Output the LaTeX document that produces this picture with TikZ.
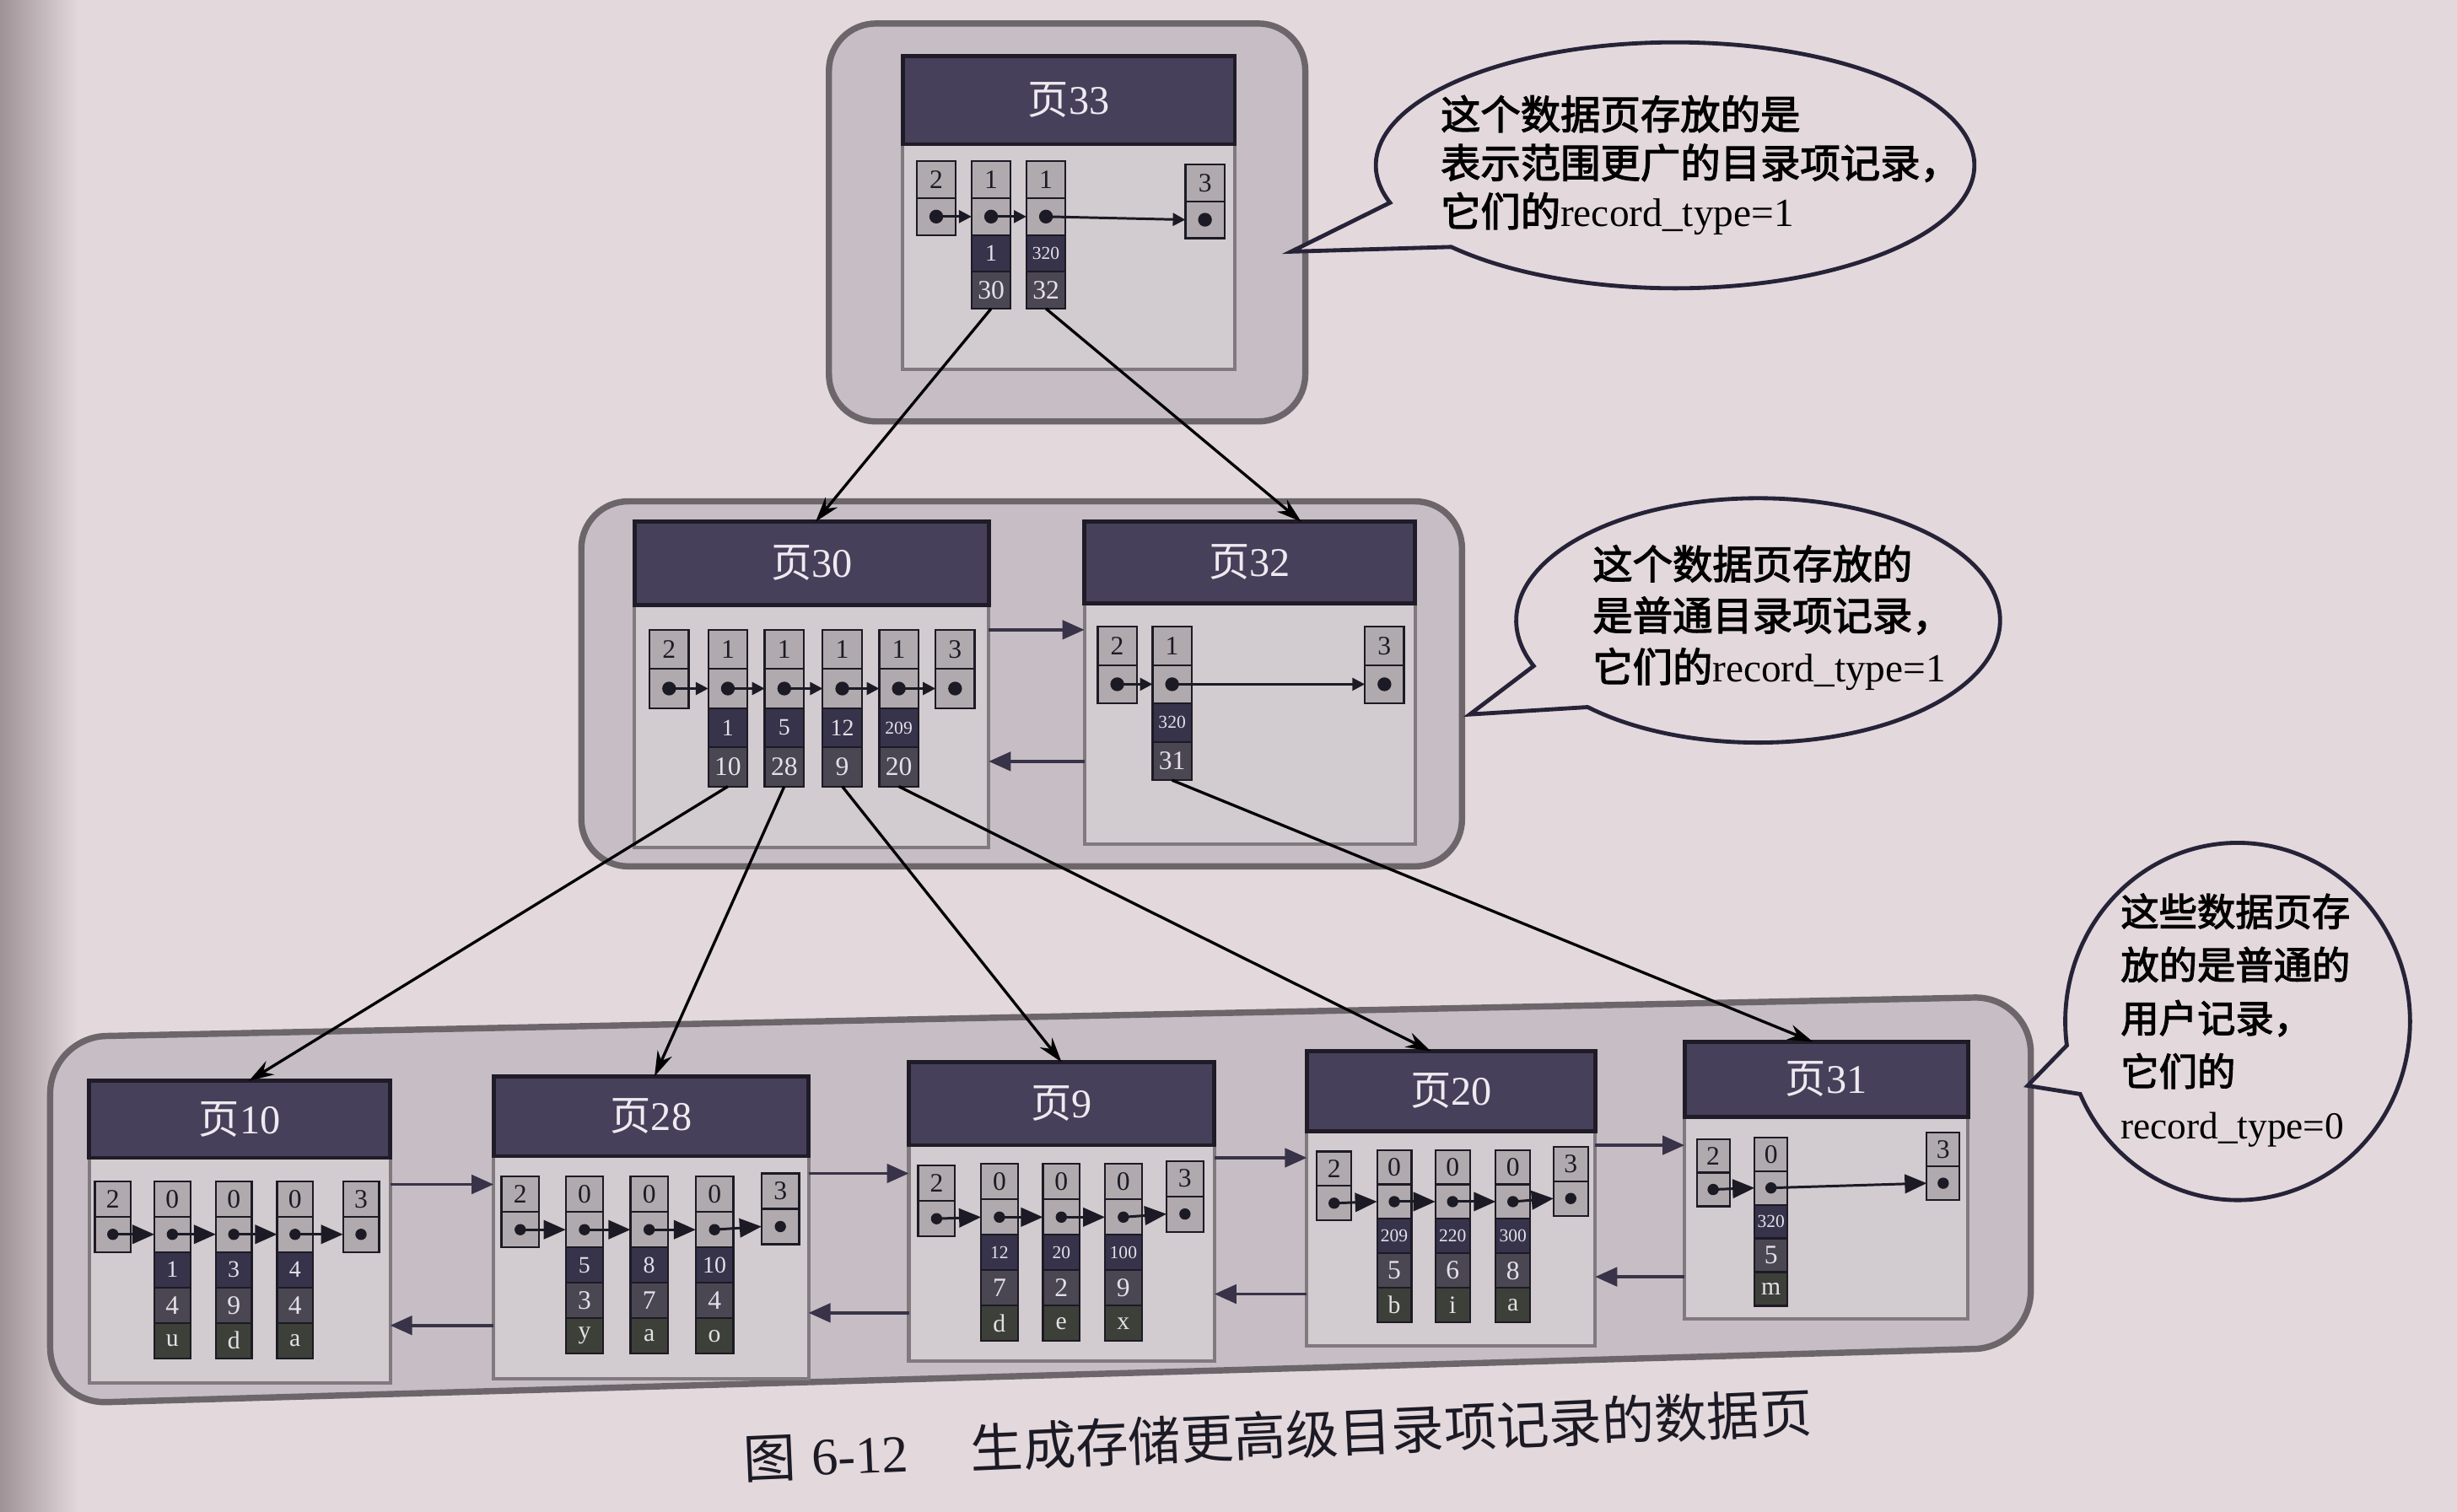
\documentclass[tikz,border=0pt]{standalone}
\usepackage{fontspec}
\setmainfont{Liberation Serif}
\newfontfamily\cjk{Noto Sans CJK SC}
\newfontfamily\cjkb{Noto Sans CJK SC}[FakeBold=2.5]
\usetikzlibrary{arrows.meta,calc}

\definecolor{paper}{HTML}{E3D8DC}
\definecolor{paperedge}{HTML}{9E9296}
\definecolor{groupfill}{HTML}{C6BEC4}
\definecolor{groupline}{HTML}{6C666B}
\definecolor{bodyfill}{HTML}{D2CBCF}
\definecolor{bodyline}{HTML}{807A7E}
\definecolor{headfill}{HTML}{46405A}
\definecolor{headline}{HTML}{1F1C27}
\definecolor{headtext}{HTML}{EEEAF0}
\definecolor{lightfill}{HTML}{B0A9AE}
\definecolor{keyfill}{HTML}{37334B}
\definecolor{valfill}{HTML}{4A4652}
\definecolor{charfill}{HTML}{3D4039}
\definecolor{celltext}{HTML}{E4E0E6}
\definecolor{ink}{HTML}{1C1A24}
\definecolor{bubbleline}{HTML}{262338}

% cell geometry (in picture units), reset per page
\def\cellw{25}
\def\cellh{24}
\def\dotr{2.2pt}

\newcommand\pagelabel[1]{{\cjk 页}#1}
\newcommand\smallnum[1]{{\fontsize{5.8}{6}\selectfont #1}}

% one data page: id, left, right, header top, header bottom / body top, body bottom
\newcommand\datapage[6]{%
  \node[pagebody, minimum width={(#3-#2)*0.5pt}, minimum height={(#6-#5)*0.5pt}]
    (b#1) at ({(#2+#3)/2},{(#5+#6)/2}) {};
  \node[header, minimum width={(#3-#2)*0.5pt}, minimum height={(#5-#4)*0.5pt}]
    (h#1) at ({(#2+#3)/2},{(#4+#5)/2}) {\pagelabel{#1}};}

% type cell + next-record pointer cell
\newcommand\typecells[4]{%
  \node[lcell] (#1-n) at (#2,{#3+0.5*\cellh}) {#4};
  \node[lcell] (#1-p) at (#2,{#3+1.5*\cellh}) {};
  \fill[ink] (#1-p.center) circle[radius=\dotr];}

% directory record: name, x, top, min key, child page
\newcommand\dirrec[5]{%
  \typecells{#1}{#2}{#3}{1}
  \node[kcell] (#1-k) at (#2,{#3+2.5*\cellh}) {#4};
  \node[vcell] (#1-v) at (#2,{#3+3.5*\cellh}) {#5};}

% user record: name, x, top, c1, c2, c3
\newcommand\userrec[6]{%
  \typecells{#1}{#2}{#3}{0}
  \node[kcell] (#1-k) at (#2,{#3+2.5*\cellh}) {#4};
  \node[vcell] (#1-v) at (#2,{#3+3.5*\cellh}) {#5};
  \node[ccell] (#1-c) at (#2,{#3+4.5*\cellh}) {#6};}

% arrows between neighbouring pages at height y
\newcommand\nextpage[3]{%
  \coordinate (sy) at (0,#3);
  \draw[sib] (#1.east |- sy) -- (#2.west |- sy);}
\newcommand\prevpage[3]{%
  \coordinate (sy) at (0,#3);
  \draw[sib] (#2.west |- sy) -- (#1.east |- sy);}

\tikzset{
  groupbox/.style={draw=groupline, line width=2pt, fill=groupfill, rounded corners=15pt},
  pagebody/.style={draw=bodyline, line width=1.1pt, fill=bodyfill, inner sep=0pt, outer sep=0pt},
  header/.style={draw=headline, line width=1.3pt, fill=headfill, text=headtext,
    inner sep=0pt, outer sep=0pt, font=\fontsize{13}{13}\selectfont},
  cellbase/.style={draw=ink, line width=0.6pt, minimum width=\cellw*0.5pt,
    minimum height=\cellh*0.5pt, inner sep=0pt, outer sep=0pt},
  lcell/.style={cellbase, fill=lightfill, text=ink, font=\fontsize{8.5}{8.5}\selectfont},
  kcell/.style={cellbase, fill=keyfill, text=celltext, font=\fontsize{7.5}{7.5}\selectfont},
  vcell/.style={cellbase, fill=valfill, text=celltext, font=\fontsize{8.5}{8.5}\selectfont},
  ccell/.style={cellbase, fill=charfill, text=celltext, font=\fontsize{8}{8}\selectfont},
  ptrs/.style={draw=ink, line width=0.8pt, -{Triangle[length=4pt,width=4pt]}},
  ptrb/.style={draw=ink, line width=0.8pt, -{Triangle[length=7pt,width=6pt]}},
  sib/.style={draw=headfill!80!black, line width=1pt, -{Triangle[length=7pt,width=6pt]}},
  link/.style={draw=black, line width=0.9pt, -{Stealth[length=8pt,width=5pt]}},
  bubble/.style={draw=bubbleline, line width=1.3pt, line join=miter, fill=paper},
  bubbletext/.style={anchor=west, align=left, inner sep=0pt, text=black,
    font=\fontsize{12.75}{16.4}\selectfont},
}

\begin{document}
\begin{tikzpicture}[x=0.5pt,y=-0.5pt]
\useasboundingbox (0,0) rectangle (1568,965);
\fill[paper] (0,0) rectangle (1568,965);
\shade[left color=paperedge, right color=paper] (0,0) rectangle (50,965);

% levels of the tree
\draw[groupbox] (529,15) rectangle (833,269);
\draw[groupbox] (371,320) rectangle (933,553);
\draw[groupbox, rounded corners=18pt] (32,662) -- (1296,636) -- (1296,860) -- (32,896) -- cycle;

% pages
\datapage{33}{576}{788}{36}{92}{236}
\datapage{30}{405}{631}{333}{386}{541}
\datapage{32}{692}{903}{333}{385}{539}
\datapage{10}{57}{249}{690}{739}{883}
\datapage{28}{315}{516}{687}{738}{880}
\datapage{9}{580}{775}{678}{731}{869}
\datapage{20}{834}{1018}{671}{722}{859}
\datapage{31}{1075}{1256}{665}{713}{842}

% page 33
\def\cellw{25}\def\cellh{23.5}\def\dotr{2.2pt}
\typecells{p33i}{597.5}{103}{2}
\dirrec{p33a}{632.5}{103}{1}{30}
\dirrec{p33b}{667.5}{103}{\smallnum{320}}{32}
\typecells{p33s}{769}{105}{3}
\foreach \a/\b in {p33i/p33a, p33a/p33b, p33b/p33s}
  \draw[ptrs] (\a-p.center) -- (\b-p.west);

% page 30
\def\cellh{25}
\typecells{p30i}{427}{402}{2}
\dirrec{p30a}{464.5}{402}{1}{10}
\dirrec{p30b}{500.5}{402}{5}{28}
\dirrec{p30c}{537.5}{402}{12}{9}
\dirrec{p30d}{573.6}{402}{\smallnum{209}}{20}
\typecells{p30s}{609.5}{402}{3}
\foreach \a/\b in {p30i/p30a, p30a/p30b, p30b/p30c, p30c/p30d, p30d/p30s}
  \draw[ptrs] (\a-p.center) -- (\b-p.west);

% page 32
\def\cellh{24.5}
\typecells{p32i}{713}{400}{2}
\dirrec{p32a}{748}{400}{\smallnum{320}}{31}
\typecells{p32s}{883.5}{400}{3}
\foreach \a/\b in {p32i/p32a, p32a/p32s}
  \draw[ptrs] (\a-p.center) -- (\b-p.west);

% page 10
\def\cellw{23}\def\cellh{22.6}\def\dotr{1.8pt}
\typecells{p10i}{72}{754}{2}
\userrec{p10a}{110}{754}{1}{4}{u}
\userrec{p10b}{149.2}{754}{3}{9}{d}
\userrec{p10c}{188.3}{754}{4}{4}{a}
\typecells{p10s}{230.4}{754}{3}
\foreach \a/\b in {p10i/p10a, p10a/p10b, p10b/p10c, p10c/p10s}
  \draw[ptrb] (\a-p.center) -- (\b-p.west);

% page 28
\def\cellw{24}
\typecells{p28i}{332}{751}{2}
\userrec{p28a}{373}{751}{5}{3}{y}
\userrec{p28b}{414.3}{751}{8}{7}{a}
\userrec{p28c}{456}{751}{10}{4}{o}
\typecells{p28s}{498}{749}{3}
\foreach \a/\b in {p28i/p28a, p28a/p28b, p28b/p28c, p28c/p28s}
  \draw[ptrb] (\a-p.center) -- (\b-p.west);

% page 9
\def\cellw{23.5}
\typecells{p9i}{597.7}{744}{2}
\userrec{p9a}{637.8}{743}{\smallnum{12}}{7}{d}
\userrec{p9b}{677.3}{743}{\smallnum{20}}{2}{e}
\userrec{p9c}{716.9}{743}{\smallnum{100}}{9}{x}
\typecells{p9s}{756.2}{741}{3}
\foreach \a/\b in {p9i/p9a, p9a/p9b, p9b/p9c, p9c/p9s}
  \draw[ptrb] (\a-p.center) -- (\b-p.west);

% page 20
\def\cellw{22}\def\cellh{22}
\typecells{p20i}{851.4}{735}{2}
\userrec{p20a}{889.8}{734}{\smallnum{209}}{5}{b}
\userrec{p20b}{927}{734}{\smallnum{220}}{6}{i}
\userrec{p20c}{965.5}{734}{\smallnum{300}}{8}{a}
\typecells{p20s}{1002.4}{732}{3}
\foreach \a/\b in {p20i/p20a, p20a/p20b, p20b/p20c, p20c/p20s}
  \draw[ptrb] (\a-p.center) -- (\b-p.west);

% page 31
\def\cellw{21}\def\cellh{21.5}
\typecells{p31i}{1093.3}{727}{2}
\userrec{p31a}{1130.2}{726}{\smallnum{320}}{5}{m}
\typecells{p31s}{1240.1}{723}{3}
\foreach \a/\b in {p31i/p31a, p31a/p31s}
  \draw[ptrb] (\a-p.center) -- (\b-p.west);

% doubly linked pages on each level
\nextpage{b30}{b32}{402}
\prevpage{b30}{b32}{486}
\nextpage{b10}{b28}{756}
\prevpage{b10}{b28}{846}
\nextpage{b28}{b9}{749}
\prevpage{b28}{b9}{838}
\nextpage{b9}{b20}{739}
\prevpage{b9}{b20}{826}
\nextpage{b20}{b31}{731}
\prevpage{b20}{b31}{815}

% directory records pointing at child pages
\draw[link] (p33a-v.south) -- ($(h30.north west)!0.511!(h30.north east)$);
\draw[link] (p33b-v.south) -- ($(h32.north west)!0.656!(h32.north east)$);
\draw[link] (p30a-v.south) -- ($(h10.north west)!0.53!(h10.north east)$);
\draw[link] (p30b-v.south) -- ($(h28.north west)!0.511!(h28.north east)$);
\draw[link] (p30c-v.south) -- ($(h9.north west)!0.50!(h9.north east)$);
\draw[link] (p30d-v.south) -- ($(h20.north west)!0.43!(h20.north east)$);
\draw[link] (p32a-v.south) -- ($(h31.north west)!0.453!(h31.north east)$);

% speech bubbles
\draw[bubble] (824,160.6)
  -- ($(1069,105.5)+(221.6:95.5pt and 39.25pt)$)
  arc[start angle=221.6, end angle=557.7, x radius=95.5pt, y radius=39.25pt] -- cycle;
\node[bubbletext, font=\fontsize{12.75}{15.5}\selectfont] (t1) at (919,105.4)
  {{\cjkb 这个数据页存放的是}\\{\cjkb 表示范围更广的目录项记录，}\\{\cjkb 它们的}record\_type=1};

\draw[bubble] (938,456)
  -- ($(1122,396)+(225.2:77.2pt and 39pt)$)
  arc[start angle=225.2, end angle=561.9, x radius=77.2pt, y radius=39pt] -- cycle;
\node[bubbletext] (t2) at (1016,394.3)
  {{\cjkb 这个数据页存放的}\\{\cjkb 是普通目录项记录，}\\{\cjkb 它们的}record\_type=1};

\draw[bubble] (1294,693)
  -- ($(1428,652)+(204:55pt and 57pt)$)
  arc[start angle=204, end angle=547.7, x radius=55pt, y radius=57pt] -- cycle;
\node[bubbletext, font=\fontsize{12.2}{17}\selectfont] (t3) at (1353,651.3)
  {{\cjkb 这些数据页存}\\{\cjkb 放的是普通的}\\{\cjkb 用户记录，}\\{\cjkb 它们的}\\record\_type=0};

% caption
\node[rotate=2.5, anchor=west, inner sep=0pt, text=ink, font=\fontsize{16.8}{18}\selectfont] (cap) at (474,931)
  {{\cjk 图}\hspace{5pt}6-12\hspace{20pt}{\cjk 生成存储更高级目录项记录的数据页}};
\end{tikzpicture}
\end{document}
